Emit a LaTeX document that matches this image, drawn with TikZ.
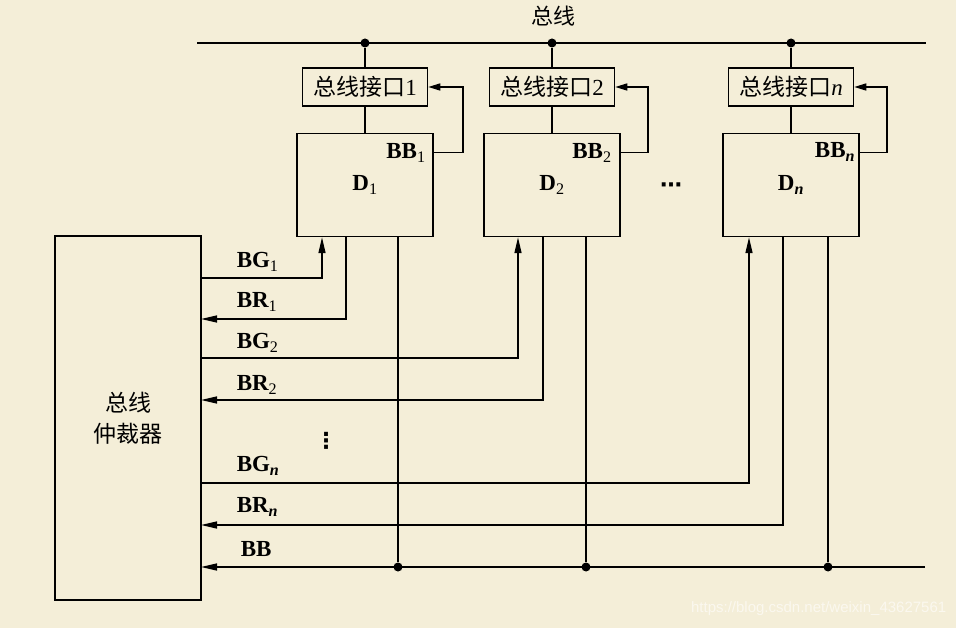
\documentclass[tikz,border=0pt]{standalone}
\usepackage{fontspec}
\setmainfont{Liberation Serif}
\newfontfamily\cjk{Noto Sans CJK SC}
\newfontfamily\wmfont{Liberation Sans}
\newfontfamily\symfont{DejaVu Sans}
\usetikzlibrary{positioning,arrows.meta}
\definecolor{paper}{RGB}{244,238,216}

\begin{document}
\begin{tikzpicture}[x=1pt,y=-1pt,
  line width=1.5pt,
  devbox/.style={draw,minimum width=136pt,minimum height=103pt,inner sep=0pt,font=\bfseries\fontsize{23}{26}\selectfont},
  ifbox/.style={draw,minimum width=125pt,minimum height=38pt,inner sep=0pt,font=\fontsize{23}{26}\selectfont},
  arbbox/.style={draw,minimum width=146pt,minimum height=364pt,align=center,font=\cjk\fontsize{23}{31}\selectfont},
  sig/.style={font=\bfseries\fontsize{23}{26}\selectfont,inner sep=0pt},
  joint/.style={circle,fill,inner sep=0pt,minimum size=9pt},
  arr/.style={-{Triangle[length=16pt,width=7pt]}},
  fb/.style={-{Triangle[length=12pt,width=7pt]}},
 ]
\useasboundingbox (0,0) rectangle (956,628);
\fill[paper] (0,0) rectangle (956,628);

% devices and interfaces
\node[devbox] (D1) at (365,185) {D\textsubscript{\mdseries 1}};
\node[devbox] (D2) at (552,185) {D\textsubscript{\mdseries 2}};
\node[devbox] (Dn) at (791,185) {D\textsubscript{\itshape n}};
\node[ifbox, above=26pt of D1] (I1) {{\cjk 总线接口}1};
\node[ifbox, above=26pt of D2] (I2) {{\cjk 总线接口}2};
\node[ifbox, above=26pt of Dn] (In) {{\cjk 总线接口}\textit{n}};

\node[sig] (bb1) at (406,153) {BB\textsubscript{\mdseries 1}};
\node[sig] (bb2) at (592,153) {BB\textsubscript{\mdseries 2}};
\node[sig] (bbn) at (835,152) {BB\textsubscript{\itshape n}};
\node[sig, font=\symfont\bfseries\fontsize{22}{24}\selectfont] (hdots) at (671,188) {⋯};

% arbiter
\node[arbbox] (arb) at (128,418) {总线\\仲裁器};

% bus
\coordinate (busW) at (197,43);
\coordinate (busE) at (926,43);
\draw[line width=2pt] (busW) -- (busE);
\node[sig, font=\cjk\fontsize{22}{24}\selectfont] (bus) at (553,16) {总线};
\node[joint] (J1) at (I1 |- busW) {};
\node[joint] (J2) at (I2 |- busW) {};
\node[joint] (Jn) at (In |- busW) {};
\draw (J1) -- (I1) (I1) -- (D1);
\draw (J2) -- (I2) (I2) -- (D2);
\draw (Jn) -- (In) (In) -- (Dn);

% busy feedback
\draw[fb] ([yshift=-20pt]D1.north east) -- ++(29,0) |- (I1.east);
\draw[fb] ([yshift=-20pt]D2.north east) -- ++(27,0) |- (I2.east);
\draw[fb] ([yshift=-20pt]Dn.north east) -- ++(27,0) |- (In.east);

% ports on the devices
\coordinate (g1) at ([xshift=-43pt]D1.south);
\coordinate (r1) at ([xshift=-19pt]D1.south);
\coordinate (b1) at ([xshift=33pt]D1.south);
\coordinate (g2) at ([xshift=-34pt]D2.south);
\coordinate (r2) at ([xshift=-9pt]D2.south);
\coordinate (b2) at ([xshift=34pt]D2.south);
\coordinate (gn) at ([xshift=-42pt]Dn.south);
\coordinate (rn) at ([xshift=-8pt]Dn.south);
\coordinate (bn) at ([xshift=37pt]Dn.south);

% ends on the arbiter
\coordinate (lg1) at (201,278);
\coordinate (lr1) at (201,319);
\coordinate (lg2) at (201,358);
\coordinate (lr2) at (201,400);
\coordinate (lgn) at (201,483);
\coordinate (lrn) at (201,525);
\coordinate (lbb) at (201,567);
\coordinate (bbE) at (925,567);

\draw[arr] (lg1) -| (g1);
\draw[arr] (r1) |- (lr1);
\draw[arr] (lg2) -| (g2);
\draw[arr] (r2) |- (lr2);
\draw[arr] (lgn) -| (gn);
\draw[arr] (rn) |- (lrn);
\draw[arr] (bbE) -- (lbb);

\node[joint] (K1) at (b1 |- lbb) {};
\node[joint] (K2) at (b2 |- lbb) {};
\node[joint] (Kn) at (bn |- lbb) {};
\draw (b1) -- (K1);
\draw (b2) -- (K2);
\draw (bn) -- (Kn);

% signal names
\node[sig, anchor=west] (tg1) at (236,262) {BG\textsubscript{\mdseries 1}};
\node[sig, anchor=west] (tr1) at (236,302) {BR\textsubscript{\mdseries 1}};
\node[sig, anchor=west] (tg2) at (236,343) {BG\textsubscript{\mdseries 2}};
\node[sig, anchor=west] (tr2) at (236,385) {BR\textsubscript{\mdseries 2}};
\node[sig, font=\symfont\bfseries\fontsize{22}{24}\selectfont] (vdots) at (326,441) {⋮};
\node[sig, anchor=west] (tgn) at (236,466) {BG\textsubscript{\itshape n}};
\node[sig, anchor=west] (trn) at (236,507) {BR\textsubscript{\itshape n}};
\node[sig, anchor=west] (tbb) at (240,549) {BB};

\node[anchor=east, inner sep=0pt, font=\wmfont\fontsize{15}{18}\selectfont, text=white!60!paper] (wm) at (947,609) {https://blog.csdn.net/weixin\_43627561};
\end{tikzpicture}
\end{document}
